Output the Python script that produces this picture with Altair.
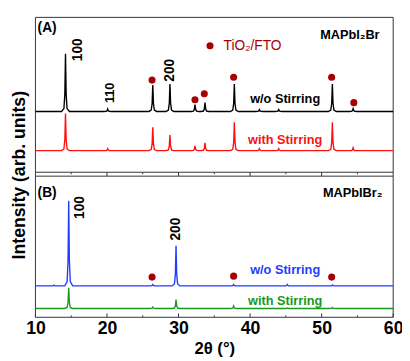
import altair as alt
import pandas as pd

FONT = "Liberation Sans"

# ---- data -----------------------------------------------------------------
# reflections (2theta, deg) and peak heights above each trace's baseline
top_peaks_2theta = [14.2, 20.1, 26.4, 28.8, 32.3, 33.7, 37.8, 41.3, 44.0, 51.5, 54.4]
black_heights = [59, 2.5, 27, 28, 7, 9, 28, 2, 2, 28, 3]
red_heights = [38, 2, 24, 16, 5, 8, 29, 2, 2, 29, 3]

bottom_peaks_2theta = [12.6, 14.65, 26.4, 29.65, 37.7, 45.2, 51.5]
blue_heights = [0.8, 87, 1.5, 41, 1.5, 1.5, 1]
green_heights = [0, 21, 1.5, 9, 2.5, 0.5, 1]

trace_names = ["MAPbI2Br w/o", "MAPbI2Br with", "MAPbIBr2 w/o", "MAPbIBr2 with"]
trace_baselines = [210, 170, 32, 9]
trace_colors = ["#000000", "#FF1010", "#1F3DFF", "#18991E"]

# TiO2/FTO reflections markers
tio2_top_x = [26.3, 32.3, 33.6, 37.7, 51.4, 54.5]
tio2_top_y = [242, 222, 228, 245, 245, 219]
tio2_bot_x = [26.3, 37.7, 51.4]
tio2_bot_y = [41, 42, 41]

x_ticks_major = [10, 20, 30, 40, 50, 60]
x_ticks_minor = [15, 25, 35, 45, 55]

# peak profile template (offset in deg, fraction of height)
shape_dx = [-0.55, -0.22, -0.09, 0.0, 0.09, 0.22, 0.55]
shape_frac = [0.0, 0.05, 0.3, 1.0, 0.3, 0.05, 0.0]

rows = []
peak_sets = [
    (top_peaks_2theta, black_heights),
    (top_peaks_2theta, red_heights),
    (bottom_peaks_2theta, blue_heights),
    (bottom_peaks_2theta, green_heights),
]
for name, base, (pos, hts) in zip(trace_names, trace_baselines, peak_sets):
    rows.append({"x": 10.0, "y": base, "trace": name})
    for p, h in zip(pos, hts):
        if h <= 0:
            continue
        for dx, f in zip(shape_dx, shape_frac):
            rows.append({"x": p + dx, "y": base + f * h, "trace": name})
    rows.append({"x": 60.0, "y": base, "trace": name})
lines_df = pd.DataFrame(rows)

xs = alt.Scale(domain=[10, 60], nice=False, zero=False)
ys = alt.Scale(domain=[0, 306], nice=False, zero=False)

x_axis = alt.Axis(values=x_ticks_major, format="d", labelFont=FONT, labelFontSize=18,
                  labelFontWeight="bold", labelColor="#000", ticks=False, domain=False,
                  grid=False, labelFlush=False, title="2θ (°)", titleFont=FONT, titleFontSize=17,
                  titleFontWeight="bold", titleColor="#000", labelPadding=3, titlePadding=3)


def X(field="x:Q"):
    return alt.X(field, scale=xs, axis=x_axis, title="2θ (°)")


def Y(field="y:Q"):
    return alt.Y(field, scale=ys, axis=None)


lines = alt.Chart(lines_df).mark_line(strokeWidth=1.4).encode(
    x=X(), y=Y(),
    color=alt.Color("trace:N", scale=alt.Scale(domain=trace_names, range=trace_colors), legend=None),
    order="x:Q",
)

dots_df = pd.DataFrame({"x": tio2_top_x + tio2_bot_x, "y": tio2_top_y + tio2_bot_y})
dots = alt.Chart(dots_df).mark_circle(size=52, color="#A80000", opacity=1).encode(x=X(), y=Y())

legend_dot = alt.Chart(pd.DataFrame({"x": [34.4], "y": [277]})).mark_circle(
    size=52, color="#A80000", opacity=1).encode(x=X(), y=Y())

# frames of the two panels
frames_df = pd.DataFrame({"x": [10, 10], "x2": [60, 60], "y": [0, 148], "y2": [144, 306]})
frames = alt.Chart(frames_df).mark_rect(fill="transparent", stroke="#333333", strokeWidth=1).encode(
    x=X(), x2="x2:Q", y=Y(), y2="y2:Q")

# ticks: top panel (into the gap) and bottom panel (inward)
tick_rows = []
for t in x_ticks_major:
    tick_rows += [{"x": t, "y": 148, "y2": 144}, {"x": t, "y": 0, "y2": 4}]
for t in x_ticks_minor:
    tick_rows += [{"x": t, "y": 148, "y2": 146}, {"x": t, "y": 0, "y2": 2}]
ticks = alt.Chart(pd.DataFrame(tick_rows)).mark_rule(color="#333333", strokeWidth=1).encode(
    x=X(), y=Y(), y2="y2:Q")


def label(text, x, y, color="#000000", size=13, angle=0, align="center", weight="bold"):
    df = pd.DataFrame({"x": [x], "y": [y], "t": [text]})
    return alt.Chart(df).mark_text(font=FONT, fontSize=size, fontWeight=weight, color=color,
                                   angle=angle, align=align, baseline="middle").encode(
        x=X(), y=Y(), text="t:N")


labels = [
    label("(A)", 10.3, 295, size=14, align="left"),
    label("MAPbI₂Br", 58.1, 288, size=13, align="right"),
    label("TiO₂/FTO", 36.3, 277, color="#A80000", size=14, align="left", weight="normal"),
    label("w/o Stirring", 44.9, 223, size=13),
    label("with Stirring", 44.9, 181, color="#FF1010", size=13),
    label("100", 16.0, 273, size=14, angle=270),
    label("110", 20.5, 229, size=13, angle=270),
    label("200", 28.8, 252, size=14, angle=270),
    label("(B)", 10.3, 127, size=14, align="left"),
    label("MAPbIBr₂", 58.5, 127, size=13, align="right"),
    label("100", 16.3, 112, size=14, angle=270),
    label("200", 29.7, 90, size=14, angle=270),
    label("w/o Stirring", 44.9, 48, color="#1F3DFF", size=13),
    label("with Stirring", 44.9, 17, color="#18991E", size=13),
]

ytitle = alt.Chart(pd.DataFrame({"t": ["Intensity (arb. units)"]})).mark_text(
    font=FONT, fontSize=18, fontWeight="bold", color="#000", angle=270,
    align="center", baseline="middle").encode(
    x=alt.value(-16), y=alt.value(161), text="t:N")

chart = alt.layer(frames, ticks, lines, dots, legend_dot, *labels, ytitle).properties(
    width=365, height=306,
    autosize=alt.AutoSizeParams(type="none"),
    padding={"left": 28, "top": 6, "right": 9, "bottom": 40},
).configure_view(stroke=None)

chart.save("out.html", embed_options={"renderer": "svg", "actions": False})
